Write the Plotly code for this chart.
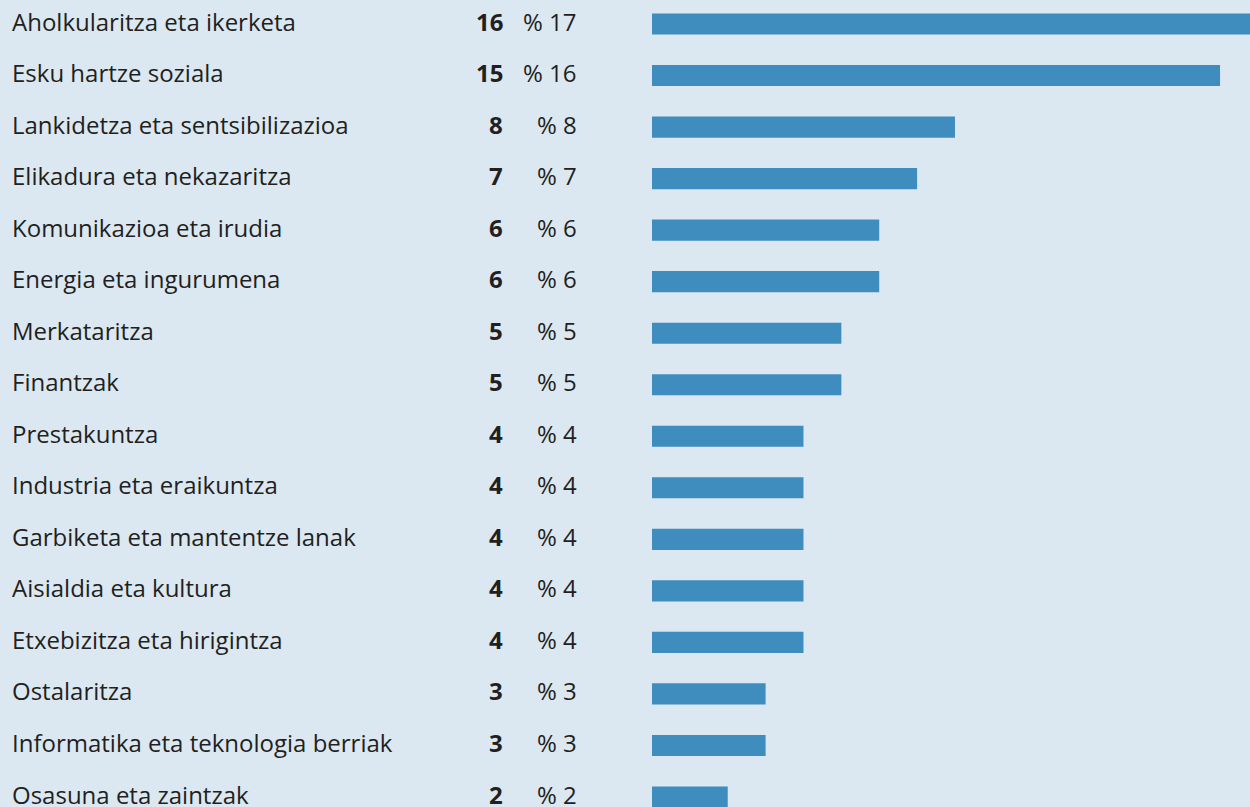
import plotly.graph_objects as go

categories = [
    "Aholkularitza eta ikerketa",
    "Esku hartze soziala",
    "Lankidetza eta sentsibilizazioa",
    "Elikadura eta nekazaritza",
    "Komunikazioa eta irudia",
    "Energia eta ingurumena",
    "Merkataritza",
    "Finantzak",
    "Prestakuntza",
    "Industria eta eraikuntza",
    "Garbiketa eta mantentze lanak",
    "Aisialdia eta kultura",
    "Etxebizitza eta hirigintza",
    "Ostalaritza",
    "Informatika eta teknologia berriak",
    "Osasuna eta zaintzak",
]
counts = [16, 15, 8, 7, 6, 6, 5, 5, 4, 4, 4, 4, 4, 3, 3, 2]
percents = [17, 16, 8, 7, 6, 6, 5, 5, 4, 4, 4, 4, 4, 3, 3, 2]

W, H = 1250, 807
BG = "#dbe8f1"
BAR = "#3f8dbe"
TXT = "#231f20"
FONT = "Open Sans"
FS = 24
YS = 3

n = len(categories)
idx = list(range(n))

fig = go.Figure()
fig.add_trace(go.Bar(
    x=counts, y=idx, orientation="h",
    marker=dict(color=BAR, line=dict(width=0)),
    width=0.41, hoverinfo="skip",
))

row = 51.53
top_c, bot_c = 24, 797
fig.update_layout(
    width=W, height=H,
    margin=dict(l=0, r=0, t=0, b=0),
    paper_bgcolor=BG, plot_bgcolor=BG,
    showlegend=False,
    xaxis=dict(domain=[652 / W, 1], range=[0, (W - 652) / 37.87],
               visible=False, fixedrange=True),
    yaxis=dict(range=[n - 1 + (H - bot_c) / row, -top_c / row],
               visible=False, fixedrange=True),
    font=dict(family=FONT, color=TXT),
)

anns = []
for i, (c, k, p) in enumerate(zip(categories, counts, percents)):
    anns.append(dict(x=10 / W, xref="paper", y=i, yref="y", text=c, yshift=YS,
                     showarrow=False, xanchor="left", yanchor="middle",
                     font=dict(size=FS, family=FONT, color=TXT)))
    anns.append(dict(x=505 / W, xref="paper", y=i, yref="y", text=f"<b>{k}</b>", yshift=YS,
                     showarrow=False, xanchor="right", yanchor="middle",
                     font=dict(size=FS, family=FONT, color=TXT)))
    anns.append(dict(x=579 / W, xref="paper", y=i, yref="y", text=f"% {p}", yshift=YS,
                     showarrow=False, xanchor="right", yanchor="middle",
                     font=dict(size=FS, family=FONT, color=TXT)))
fig.update_layout(annotations=anns)

fig.write_html(
    "out.html",
    config={"displayModeBar": False, "staticPlot": True},
    post_script="document.body.style.margin='0';document.body.style.overflow='hidden';document.body.style.background='" + BG + "';",
)
